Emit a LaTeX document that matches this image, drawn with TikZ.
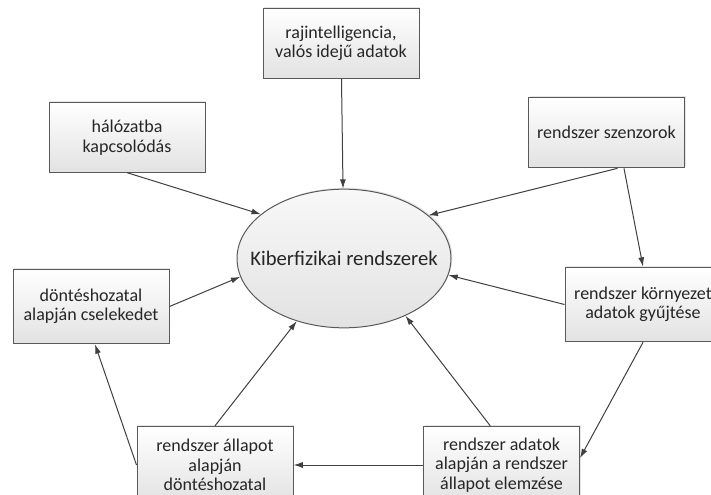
\documentclass[tikz,border=0pt]{standalone}
\usepackage{fontspec}
\setmainfont{Carlito}
\usetikzlibrary{arrows.meta,shapes.geometric,shadows}

\tikzset{every picture/.style={line width=0.75pt}}
\tikzset{
  box/.style={draw={rgb,255:red,89;green,89;blue,89}, top color=white, bottom color={rgb,255:red,226;green,226;blue,226},
    minimum width=117pt, minimum height=52pt, align=center, inner sep=0.75pt,
    font=\fontsize{13.5}{14.6}\selectfont, text={rgb,255:red,38;green,38;blue,38},
    drop shadow={shadow xshift=1pt,shadow yshift=1pt,opacity=0.2}},
  arr/.style={color={rgb,255:red,64;green,64;blue,64}, -{Latex[length=7pt,width=4.5pt]}}
}

\begin{document}
\begin{tikzpicture}[x=0.75pt,y=0.75pt,yscale=-1,xscale=1]
\path[use as bounding box] (0,0) rectangle (711,495); %set diagram size 711 x 495

%Shape: Ellipse [id:ell]
\node (ell) at (344,258.5) [ellipse, draw={rgb,255:red,89;green,89;blue,89}, top color={rgb,255:red,248;green,248;blue,248}, bottom color={rgb,255:red,226;green,226;blue,226}, minimum width=160.5pt, minimum height=104pt, inner sep=0pt, font=\fontsize{15.5}{18}\selectfont, text={rgb,255:red,38;green,38;blue,38}, drop shadow={shadow xshift=1pt,shadow yshift=1pt,opacity=0.2}] {\makebox[0pt]{Kiberfizikai rendszerek}};

%Shape: Rectangle [id:raj]
\node (raj) at (341,43.5) [box] {rajintelligencia,\\valós idejű adatok};
%Shape: Rectangle [id:hal]
\node (hal) at (127,137.5) [box] {hálózatba\\kapcsolódás};
%Shape: Rectangle [id:szen]
\node (szen) at (606.5,132.5) [box, minimum height=53pt] {rendszer szenzorok};
%Shape: Rectangle [id:dont]
\node (dont) at (91,306.5) [box, minimum height=56pt] {döntéshozatal\\alapján cselekedet};
%Shape: Rectangle [id:korny]
\node (korny) at (643,304.5) [box, minimum height=56pt] {rendszer környezet\\adatok gyűjtése};
%Shape: Rectangle [id:allap]
\node (allap) at (215,465) [box, minimum height=58pt] {rendszer állapot\\alapján\\döntéshozatal};
%Shape: Rectangle [id:adat]
\node (adat) at (501.5,465) [box, minimum height=58pt] {rendszer adatok\\alapján a rendszer\\állapot elemzése};

%Straight Lines
\draw [arr] (raj) -- (ell);
\draw [arr] (hal.south) -- (ell.152);
\draw [arr] (szen.-73) -- (ell.27);
\draw [arr] (szen.-64) -- (korny.north);
\draw [arr] (korny.west) -- (ell.-9);
\draw [arr] (korny.south) -- (adat.5);
\draw [arr] (adat.106) -- (ell.-43);
\draw [arr] (adat.west) -- (allap.east);
\draw [arr] (allap.north) -- (ell.-127);
\draw [arr] (allap.west) -- (dont.-84);
\draw [arr] (dont.east) -- (ell.190);

\end{tikzpicture}
\end{document}
